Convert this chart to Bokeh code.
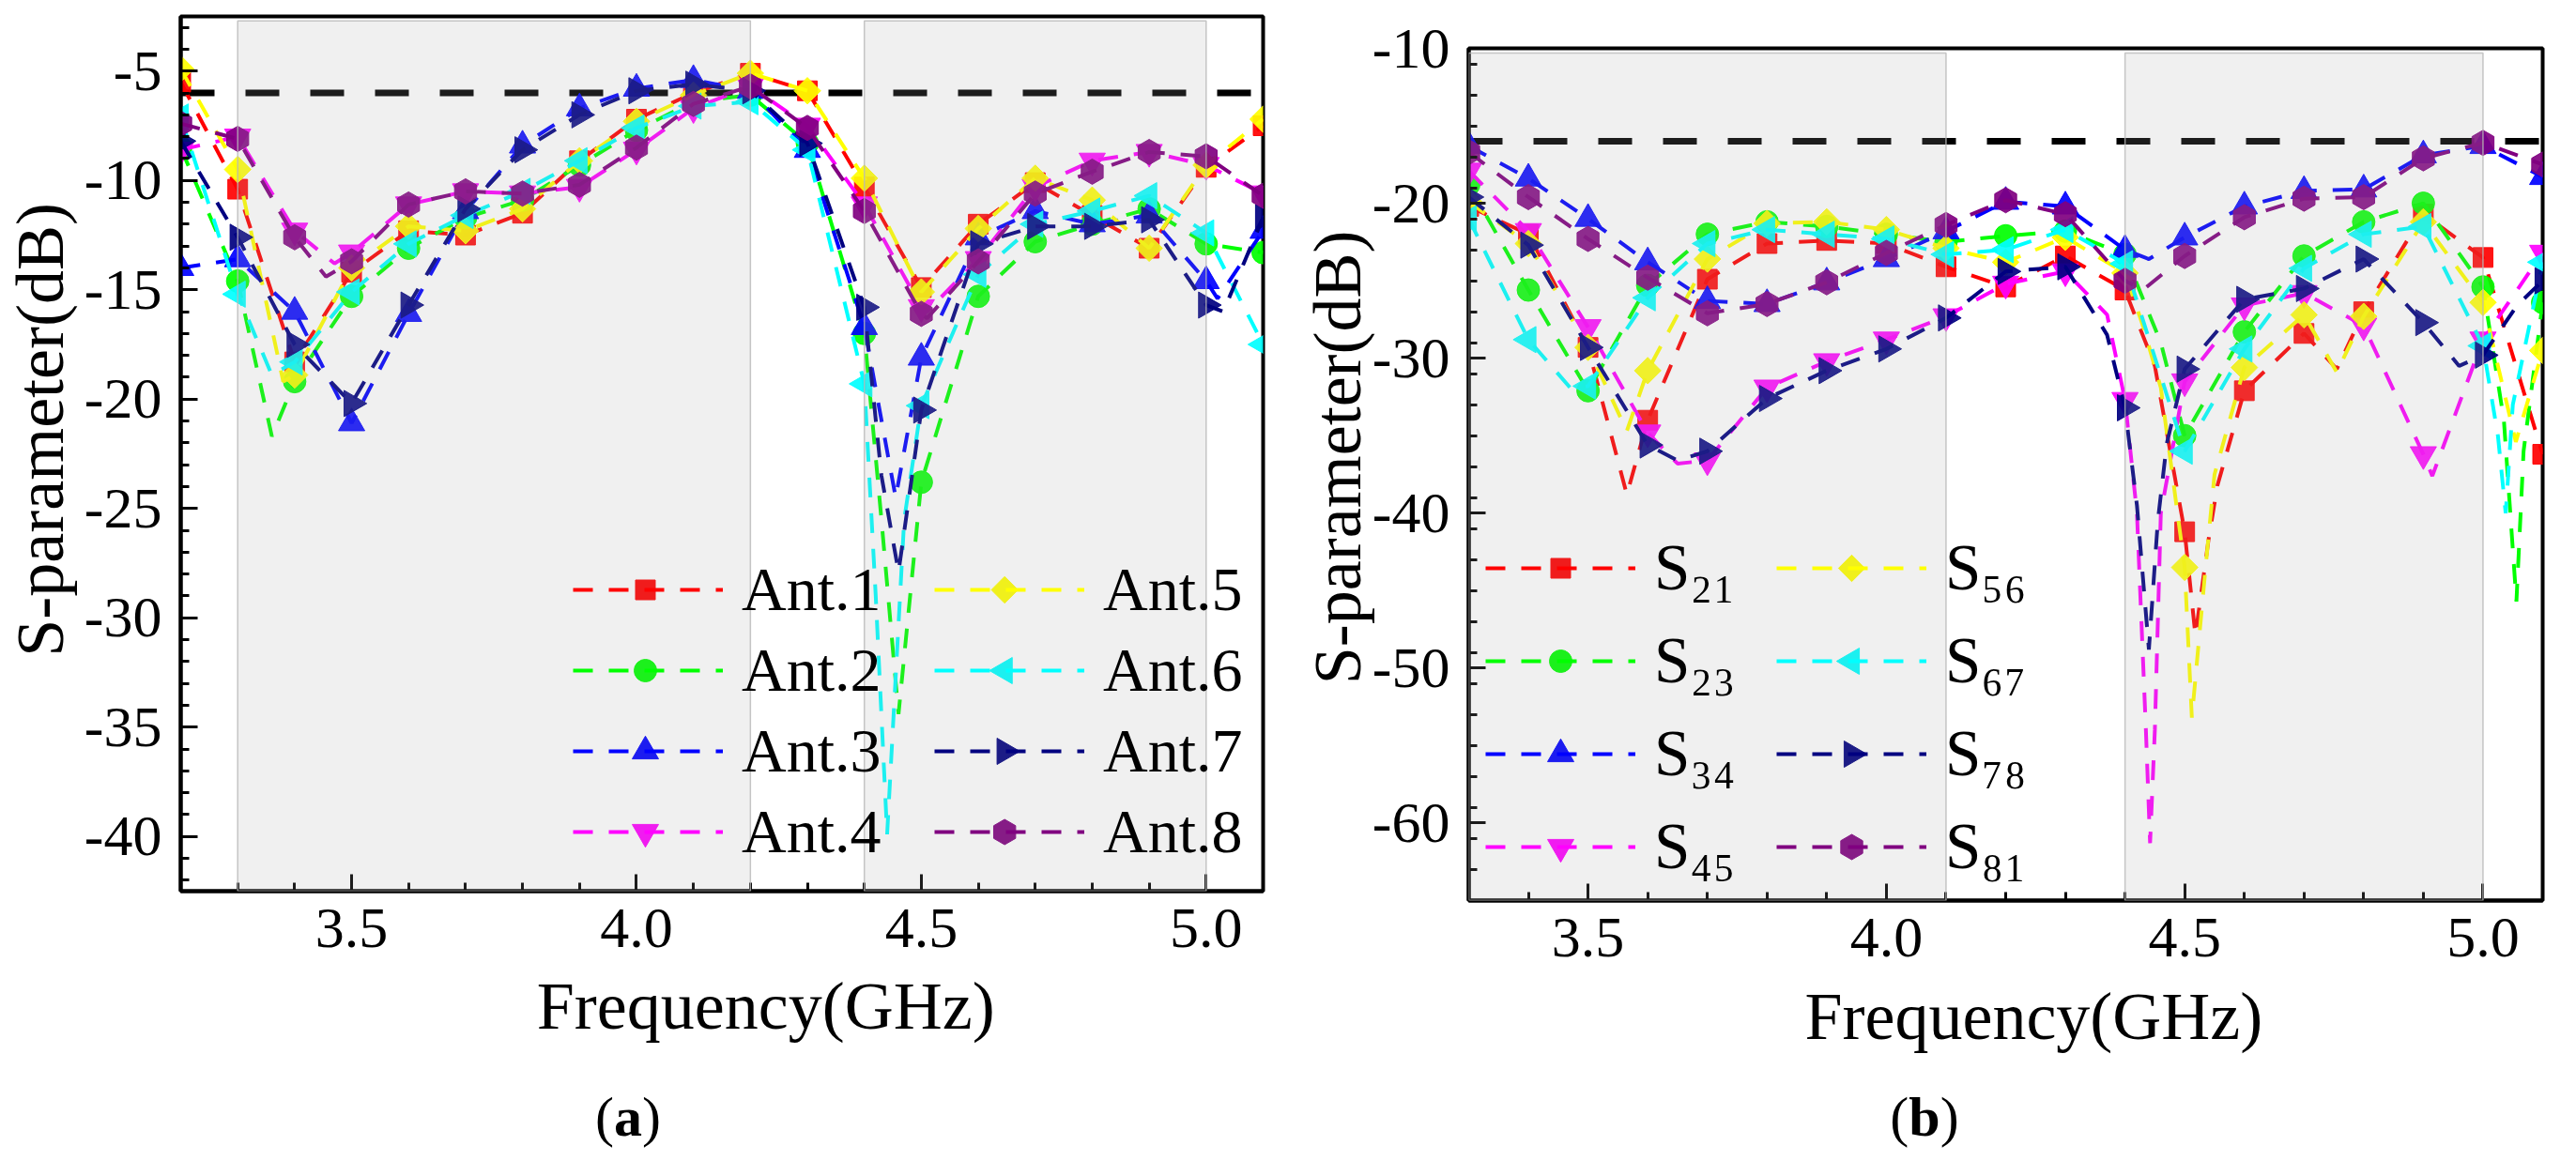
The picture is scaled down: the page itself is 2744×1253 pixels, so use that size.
import math
import json
import numpy as np
from bokeh.plotting import figure
from bokeh.models import (Range1d, FixedTicker, BoxAnnotation, Span, Legend,
                          LegendItem, CustomJSTickFormatter, LinearAxis, Div)
from bokeh.layouts import column
from bokeh.embed import file_html
from bokeh.resources import INLINE

FONT = "'Liberation Serif', 'Times New Roman', serif"

# ---------------- panel (a): reflection of each antenna ----------------
A_FREQ = [3.2, 3.3, 3.4, 3.5, 3.6, 3.7, 3.8, 3.9, 4.0, 4.1,
          4.2, 4.3, 4.4, 4.5, 4.6, 4.7, 4.8, 4.9, 5.0, 5.1]
ANT1 = [-5.5, -10.4, -18.3, -14.2, -12.3, -12.5, -11.5, -9.1, -7.2, -6.0,
        -5.1, -5.9, -10.3, -14.9, -12.0, -10.1, -11.6, -13.1, -9.4, -7.5]
ANT2 = [-8.5, -14.6, -19.2, -15.3, -13.1, -11.7, -10.9, -9.3, -7.7, -6.4,
        -6.1, -8.3, -17.0, -23.8, -15.3, -12.8, -12.0, -11.3, -12.9, -13.3]
ANT3 = [-14.0, -13.6, -16.0, -21.1, -16.1, -11.4, -8.4, -6.7, -5.8, -5.4,
        -5.9, -8.6, -16.7, -18.1, -12.6, -11.4, -12.0, -11.6, -14.6, -12.3]
ANT4 = [-8.6, -8.0, -12.3, -13.3, -11.1, -10.5, -10.6, -10.3, -8.6, -6.7,
        -5.7, -7.5, -11.1, -15.8, -13.6, -10.3, -9.1, -8.7, -9.3, -10.6]
ANT5 = [-4.9, -9.5, -18.9, -14.0, -12.1, -12.3, -11.3, -9.1, -7.3, -6.1,
        -5.1, -5.9, -9.9, -15.1, -12.2, -9.9, -10.9, -13.1, -9.3, -7.2]
ANT6 = [-7.1, -15.2, -18.3, -15.1, -12.9, -11.6, -10.5, -9.1, -7.6, -6.6,
        -6.4, -8.6, -19.3, -20.3, -14.3, -12.0, -11.4, -10.7, -12.4, -17.5]
ANT7 = [-8.2, -12.6, -17.5, -20.2, -15.7, -11.3, -8.6, -7.0, -5.9, -5.6,
        -5.9, -8.3, -15.8, -20.5, -12.9, -12.1, -12.1, -11.8, -15.7, -11.7]
ANT8 = [-7.4, -8.1, -12.6, -13.7, -11.1, -10.5, -10.6, -10.2, -8.5, -6.5,
        -5.7, -7.6, -11.4, -16.1, -13.7, -10.6, -9.6, -8.7, -8.9, -10.7]
# extra curve points between the markers (dips)
ANT1_XF, ANT1_XD = [], []
ANT2_XF, ANT2_XD = [3.36, 4.43, 4.46], [-21.7, -25.5, -34.4]
ANT3_XF, ANT3_XD = [4.455, 5.02], [-24.5, -15.4]
ANT4_XF, ANT4_XD = [3.47, 4.51], [-13.8, -16.0]
ANT5_XF, ANT5_XD = [3.38], [-19.2]
ANT6_XF, ANT6_XD = [3.36, 4.42, 4.44, 4.47], [-18.9, -29.0, -39.9, -25.5]
ANT7_XF, ANT7_XD = [4.43, 4.46, 5.03], [-23.5, -27.9, -16.0]
ANT8_XF, ANT8_XD = [3.455, 4.51], [-14.4, -16.3]
A_THRESHOLD = -6
A_BANDS = [(3.3, 4.2), (4.4, 5.0)]
A_XTICKS = [3.5, 4.0, 4.5, 5.0]
A_YTICKS = [-5, -10, -15, -20, -25, -30, -35, -40]

# ---------------- panel (b): coupling between antennas ----------------
B_FREQ = [3.3, 3.4, 3.5, 3.6, 3.7, 3.8, 3.9, 4.0, 4.1, 4.2,
          4.3, 4.4, 4.5, 4.6, 4.7, 4.8, 4.9, 5.0, 5.1]
S21 = [-20.2, -22.0, -29.3, -34.0, -24.9, -22.6, -22.4, -22.6, -24.1, -25.4,
       -23.4, -25.6, -41.2, -32.1, -28.4, -27.0, -20.7, -23.5, -36.2]
S23 = [-18.8, -25.6, -32.1, -25.3, -22.0, -21.2, -21.5, -22.0, -22.5, -22.1,
       -21.8, -23.3, -35.0, -28.3, -23.4, -21.2, -20.0, -25.4, -26.4]
S34 = [-16.3, -18.4, -21.0, -23.8, -26.3, -26.5, -25.1, -23.6, -21.8, -19.9,
       -20.2, -23.0, -22.2, -20.2, -19.2, -19.1, -16.9, -16.3, -18.3]
S45 = [-17.9, -21.8, -28.0, -34.8, -36.6, -31.9, -30.2, -28.8, -27.3, -25.2,
       -24.4, -32.7, -31.5, -26.6, -25.8, -27.9, -36.2, -28.8, -23.2]
S56 = [-19.9, -22.6, -29.3, -30.8, -23.6, -21.3, -21.2, -21.7, -22.9, -23.8,
       -22.2, -24.5, -43.5, -30.6, -27.2, -27.3, -21.2, -26.4, -29.5]
S67 = [-21.0, -28.8, -31.8, -26.1, -22.6, -21.7, -22.0, -22.3, -23.3, -23.0,
       -21.7, -23.9, -36.0, -29.4, -24.2, -22.0, -21.5, -29.2, -23.8]
S78 = [-19.6, -22.7, -29.3, -35.6, -36.0, -32.6, -30.8, -29.4, -27.4, -24.4,
       -24.1, -33.2, -30.7, -26.2, -25.5, -23.6, -27.7, -29.8, -25.0]
S81 = [-16.7, -19.6, -22.3, -24.8, -27.1, -26.5, -25.1, -23.2, -21.4, -19.8,
       -20.7, -25.0, -23.4, -20.9, -19.7, -19.6, -17.1, -16.1, -17.5]
S21_XF, S21_XD = [3.565, 4.45, 4.518, 4.54, 4.555, 4.755], [-38.8, -30.5, -47.9, -41.7, -38.2, -30.7]
S23_XF, S23_XD = [4.46, 5.035, 5.056, 5.068], [-29.0, -34.0, -45.7, -36.0]
S34_XF, S34_XD = [4.44], [-23.6]
S45_XF, S45_XD = [3.65, 4.37, 4.42, 4.435, 4.442, 4.45, 4.46, 4.915], [-36.8, -27.2, -40.0, -54.0, -61.3, -54.0, -40.0, -37.6]
S56_XF, S56_XD = [3.565, 4.43, 4.46, 4.512, 4.535, 4.55, 4.755, 5.055], [-34.7, -27.9, -31.9, -53.2, -43.5, -37.5, -30.9, -35.4]
S67_XF, S67_XD = [3.47, 5.025, 5.038, 5.05], [-31.9, -35.0, -40.0, -33.0]
S78_XF, S78_XD = [3.65, 4.37, 4.42, 4.44, 4.455, 4.47, 4.96, 5.057], [-36.6, -28.5, -39.5, -48.8, -40.5, -35.5, -30.5, -26.6]
S81_XF, S81_XD = [4.43], [-25.6]
B_THRESHOLD = -16
B_BANDS = [(3.3, 4.1), (4.4, 5.0)]
B_XTICKS = [3.5, 4.0, 4.5, 5.0]
B_YTICKS = [-10, -20, -30, -40, -50, -60]

COLORS = ["#ff0000", "#00ff00", "#0000ff", "#ff00ff",
          "#ffff00", "#00ffff", "#000080", "#800080"]
# marker, size, angle
MARKERS = [("square", 21, 0.0), ("circle", 24, 0.0), ("triangle", 28, 0.0),
           ("inverted_triangle", 28, 0.0), ("square", 20, math.pi / 4),
           ("triangle", 28, math.pi / 2), ("triangle", 28, -math.pi / 2),
           ("hex", 27, math.pi / 2)]

PLOT_W, PLOT_H = 1364, 1190


def merged(freq, vals, xf, xd):
    pts = sorted(list(zip(freq, vals)) + list(zip(xf, xd)))
    return [q[0] for q in pts], [q[1] for q in pts]


def text_axis(p, side, pos, text, size, standoff, orientation="horizontal"):
    ax = LinearAxis(ticker=FixedTicker(ticks=[pos], minor_ticks=[]),
                    formatter=CustomJSTickFormatter(code="return %s" % json.dumps(text)),
                    major_tick_line_color=None, minor_tick_line_color=None,
                    axis_line_color=None, major_label_text_font=FONT,
                    major_label_text_font_size=size, major_label_standoff=standoff,
                    major_label_orientation=orientation, major_label_text_color="black")
    p.add_layout(ax, side)


def make_panel(xr, yr, borders, xticks, yticks, yminor_step, bands, band_top,
               threshold, series, freq, legend_cfg, titles, x_standoff):
    left, right, top, fh = borders
    fw = PLOT_W - left - right
    bottom = PLOT_H - top - fh
    p = figure(width=PLOT_W, height=PLOT_H, x_range=Range1d(*xr), y_range=Range1d(*yr),
               output_backend="svg", toolbar_location=None, title=None,
               min_border_left=left, min_border_right=right,
               min_border_top=top, min_border_bottom=bottom)
    p.xgrid.visible = False
    p.ygrid.visible = False
    p.outline_line_color = "black"
    p.outline_line_width = 4
    p.outline_line_alpha = 1.0

    xminor = [round(v, 2) for v in np.arange(xr[0], xr[1] + 1e-6, 0.1)]
    yminor = [round(v, 2) for v in np.arange(math.ceil(yr[0]), yr[1] + 1e-6, yminor_step)]
    xa, ya = p.xaxis[0], p.yaxis[0]
    xa.ticker = FixedTicker(ticks=xticks, minor_ticks=xminor)
    ya.ticker = FixedTicker(ticks=yticks, minor_ticks=yminor)
    xa.formatter = CustomJSTickFormatter(code="return tick.toFixed(1)")
    ya.formatter = CustomJSTickFormatter(code="return tick.toFixed(0)")
    for ax in (xa, ya):
        ax.major_tick_in = 18
        ax.major_tick_out = 0
        ax.minor_tick_in = 9
        ax.minor_tick_out = 0
        ax.major_tick_line_width = 3
        ax.minor_tick_line_width = 3
        ax.major_tick_line_color = "black"
        ax.minor_tick_line_color = "black"
        ax.axis_line_color = "black"
        ax.axis_line_width = 4
        ax.major_label_text_font = FONT
        ax.major_label_text_font_size = "62px"
        ax.major_label_text_color = "black"
    xa.major_label_standoff = x_standoff
    ya.major_label_standoff = 20

    (xt_x, xt_s), (yt_y, yt_s) = titles
    text_axis(p, "below", xt_x, "Frequency(GHz)", "72px", xt_s)
    text_axis(p, "left", yt_y, "S-parameter(dB)", "72px", yt_s, "vertical")

    p.add_layout(Span(location=threshold, dimension="width", line_color="black",
                      line_width=7, line_dash="36 33", level="underlay"))

    lines = []
    for i, (name, vals, xf, xd) in enumerate(series):
        lx, ly = merged(freq, vals, xf, xd)
        col = COLORS[i]
        mk, sz, ang = MARKERS[i]
        lr = p.line(lx, ly, line_color=col, line_width=4, line_dash="21 17")
        p.scatter(freq, vals, marker=mk, size=sz, angle=ang,
                  fill_color=col, line_color=col, fill_alpha=0.92, line_alpha=0.92)
        lines.append((name, lr))

    for (b0, b1) in bands:
        p.add_layout(BoxAnnotation(left=b0, right=b1, top=band_top, bottom=yr[0],
                                   fill_color="#a6a6a6", fill_alpha=0.17,
                                   line_color="#b8b8b8", line_width=1.5,
                                   line_alpha=0.8))

    # legend: two columns of four entries; line swatches come from the Legend,
    # the (rotatable) marker swatches are drawn on top of them
    gh, sp, lx0, rx0, ly0, fsize = legend_cfg
    gw = 160
    px_x = fw / (xr[1] - xr[0])
    px_y = fh / (yr[1] - yr[0])
    for col_idx, xloc in ((0, lx0), (1, rx0)):
        chunk = lines[col_idx * 4:(col_idx + 1) * 4]
        items = [LegendItem(label=n, renderers=[lr]) for (n, lr) in chunk]
        leg = Legend(items=items, location=(xloc, ly0), orientation="vertical",
                     glyph_width=gw, glyph_height=gh, label_height=gh,
                     label_standoff=20, spacing=sp, padding=0, margin=0,
                     border_line_alpha=0, background_fill_alpha=0,
                     label_text_font=FONT, label_text_font_size=fsize,
                     label_text_color="black")
        p.add_layout(leg)
        sx = xr[0] + (xloc + gw / 2) / px_x
        for k in range(len(chunk)):
            i = col_idx * 4 + k
            cy = ly0 + (len(chunk) - 1 - k) * (gh + sp) + gh / 2
            sy = yr[0] + cy / px_y
            mk, sz, ang = MARKERS[i]
            p.scatter([sx], [sy], marker=mk, size=sz, angle=ang,
                      fill_color=COLORS[i], line_color=COLORS[i])
    return p


series_a = [("Ant.1", ANT1, ANT1_XF, ANT1_XD), ("Ant.2", ANT2, ANT2_XF, ANT2_XD),
            ("Ant.3", ANT3, ANT3_XF, ANT3_XD), ("Ant.4", ANT4, ANT4_XF, ANT4_XD),
            ("Ant.5", ANT5, ANT5_XF, ANT5_XD), ("Ant.6", ANT6, ANT6_XF, ANT6_XD),
            ("Ant.7", ANT7, ANT7_XF, ANT7_XD), ("Ant.8", ANT8, ANT8_XF, ANT8_XD)]
series_b = [("S\u2082\u2081", S21, S21_XF, S21_XD), ("S\u2082\u2083", S23, S23_XF, S23_XD),
            ("S\u2083\u2084", S34, S34_XF, S34_XD), ("S\u2084\u2085", S45, S45_XF, S45_XD),
            ("S\u2085\u2086", S56, S56_XF, S56_XD), ("S\u2086\u2087", S67, S67_XF, S67_XD),
            ("S\u2087\u2088", S78, S78_XF, S78_XD), ("S\u2088\u2081", S81, S81_XF, S81_XD)]

pa = make_panel((3.2, 5.1), (-42.5, -2.5), (185, 19, 17, 932), A_XTICKS, A_YTICKS, 1,
                A_BANDS, -2.7, A_THRESHOLD, series_a, A_FREQ,
                (80, 6, 418, 803, 23, "66px"),
                ((4.227, 14), (-21.4, -3)), 19)
pb = make_panel((3.3, 5.1), (-65.0, -10.0), (200, 20, 51, 908), B_XTICKS, B_YTICKS, 2,
                B_BANDS, -10.3, B_THRESHOLD, series_b, B_FREQ,
                (92, 7, 18, 328, 11, "69px"),
                ((4.247, 15), (-36.4, -13)), 19)

TAG_STYLE = {"font-family": FONT, "font-size": "60px", "line-height": "60px",
             "text-align": "center", "color": "black"}
tag_a = Div(text="(<b>a</b>)", width=200, height=40, margin=(-30, 0, 0, 569), styles=TAG_STYLE)
tag_b = Div(text="(<b>b</b>)", width=200, height=40, margin=(-30, 0, 0, 586), styles=TAG_STYLE)

# two independent roots floated side by side, so that each panel keeps its own frame
left_panel = column(pa, tag_a, styles={"float": "left"})
right_panel = column(pb, tag_b, styles={"float": "left"})
open("out.html", "w").write(file_html([left_panel, right_panel], INLINE))
